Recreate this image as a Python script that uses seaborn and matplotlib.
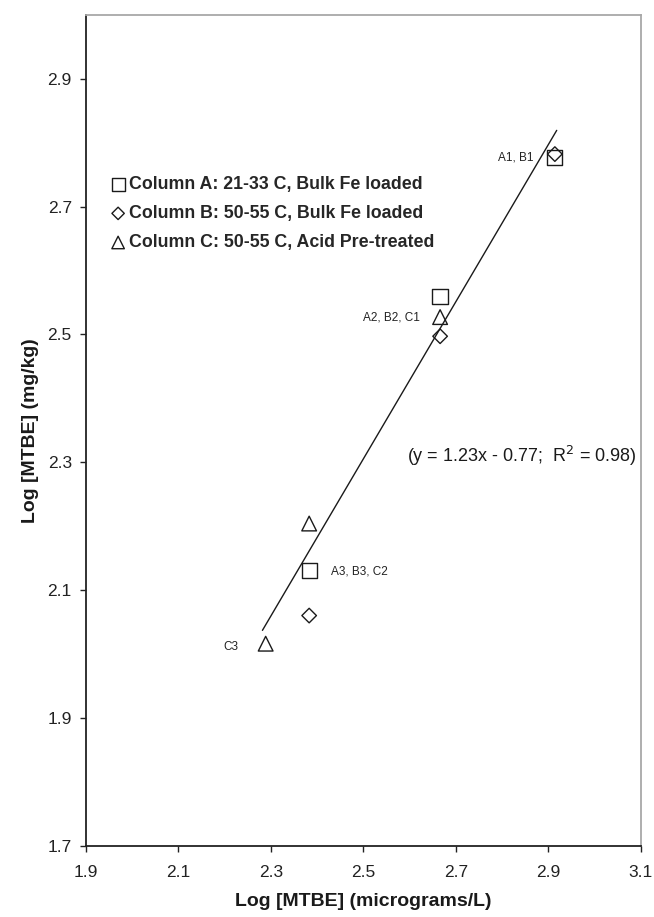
import numpy as np
import pandas as pd
import seaborn as sns
import matplotlib
matplotlib.use("Agg")
import matplotlib.pyplot as plt

# ---------------- data ----------------
col_a_x = [2.914, 2.666, 2.383]
col_a_y = [2.777, 2.559, 2.130]
col_b_x = [2.914, 2.666, 2.383]
col_b_y = [2.782, 2.497, 2.060]
col_c_x = [2.666, 2.383, 2.289]
col_c_y = [2.527, 2.204, 2.016]

series_labels = ["Column A: 21-33 C, Bulk Fe loaded",
                 "Column B: 50-55 C, Bulk Fe loaded",
                 "Column C: 50-55 C, Acid Pre-treated"]

fit_slope = 1.23
fit_intercept = -0.77
fit_x_range = [2.282, 2.918]
fit_text = "(y = 1.23x - 0.77;  R$^2$ = 0.98)"

point_labels = ["A1, B1", "A2, B2, C1", "A3, B3, C2", "C3"]
point_label_xy = [(2.867, 2.776), (2.622, 2.526), (2.430, 2.129), (2.229, 2.011)]
point_label_ha = ["right", "right", "left", "right"]

x_ticks = [1.9, 2.1, 2.3, 2.5, 2.7, 2.9, 3.1]
y_ticks = [1.7, 1.9, 2.1, 2.3, 2.5, 2.7, 2.9]

# ---------------- style ----------------
sns.set_theme(style="ticks")
plt.rcParams["font.family"] = ["Liberation Sans", "DejaVu Sans"]

fig = plt.figure(figsize=(6.54, 9.17), dpi=100)
ax = fig.add_axes([0.131, 0.0778, 0.849, 0.9061])

df_a = pd.DataFrame({"x": col_a_x, "y": col_a_y})
df_b = pd.DataFrame({"x": col_b_x, "y": col_b_y})
df_c = pd.DataFrame({"x": col_c_x, "y": col_c_y})

specs = [(df_a, "s", 121, series_labels[0]),
         (df_b, "D", 55, series_labels[1]),
         (df_c, "^", 112, series_labels[2])]
handles = []
for d, m, s, lab in specs:
    sns.scatterplot(data=d, x="x", y="y", marker=m, s=s, ax=ax, label=lab,
                    zorder=3)
    coll = ax.collections[-1]
    coll.set_facecolor("none")
    coll.set_edgecolor("#1a1a1a")
    coll.set_linewidth(1.0)
    handles.append(coll)

fit_x = np.array(fit_x_range)
fit_y = fit_slope * fit_x + fit_intercept
sns.lineplot(x=fit_x, y=fit_y, ax=ax, color="#1a1a1a", linewidth=1.0,
             legend=False, zorder=2)

for txt, (px, py), ha in zip(point_labels, point_label_xy, point_label_ha):
    ax.text(px, py, txt, ha=ha, va="center", fontsize=8.5, color="#222222")

ax.text(2.594, 2.309, fit_text, ha="left", va="center", fontsize=13,
        color="#1a1a1a")

ax.set_xlim(1.9, 3.1)
ax.set_ylim(1.7, 3.0)
ax.set_xticks(x_ticks)
ax.set_yticks(y_ticks)
ax.set_xticklabels([f"{v:.1f}" for v in x_ticks])
ax.set_yticklabels([f"{v:.1f}" for v in y_ticks])
ax.tick_params(axis="both", direction="out", length=4, width=1.0,
               labelsize=12.5, colors="#222222")
ax.tick_params(axis="x", pad=10)
ax.tick_params(axis="y", pad=6)

ax.set_xlabel("Log [MTBE] (micrograms/L)", fontsize=14, fontweight="bold",
              labelpad=9, color="#1a1a1a")
ax.set_ylabel("Log [MTBE] (mg/kg)", fontsize=14, fontweight="bold",
              labelpad=6, color="#1a1a1a")

for side in ["left", "bottom"]:
    ax.spines[side].set_color("#222222")
    ax.spines[side].set_linewidth(1.3)
for side in ["top", "right"]:
    ax.spines[side].set_visible(True)
    ax.spines[side].set_color("#a8a8a8")
    ax.spines[side].set_linewidth(1.3)

leg = ax.legend(handles=handles, labels=series_labels, loc="upper left",
                bbox_to_anchor=(0.044, 0.806), frameon=False, borderpad=0,
                borderaxespad=0, handlelength=0.9, handletextpad=0.15,
                labelspacing=0.68, markerscale=0.85,
                prop={"weight": "bold", "size": 12.8})

fig.savefig("out.png", dpi=100)
